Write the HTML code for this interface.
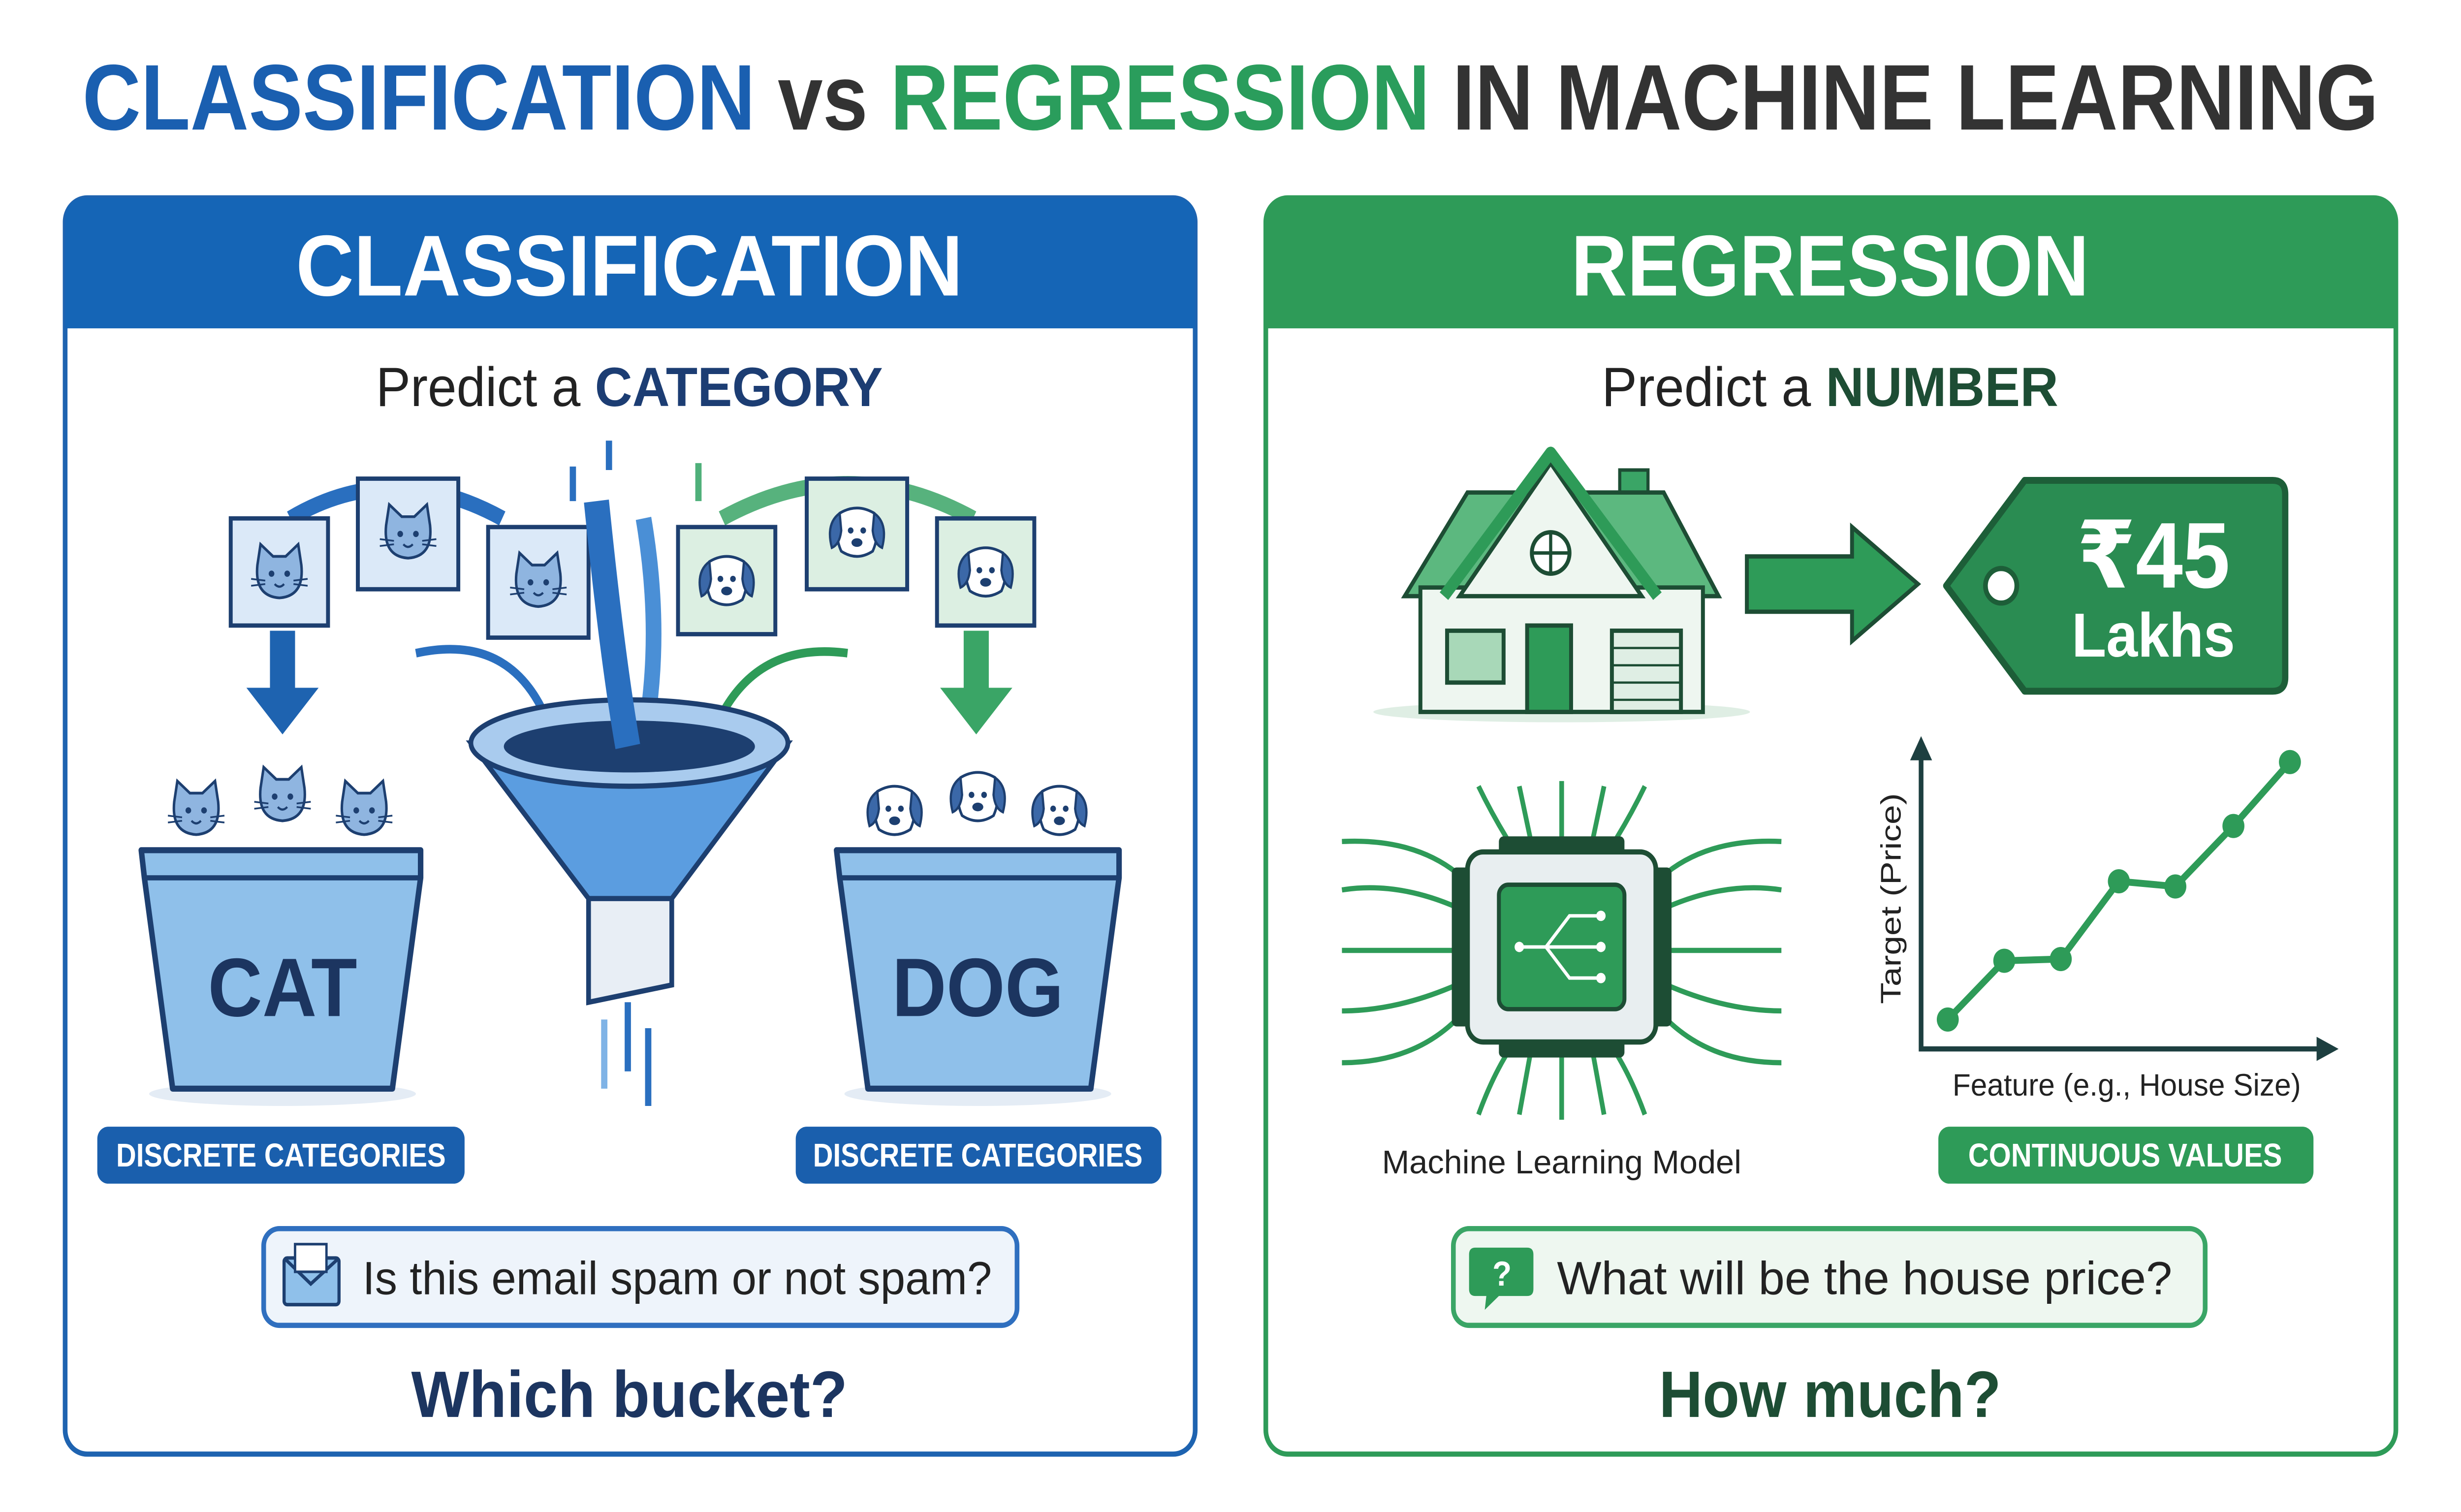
<!DOCTYPE html>
<html><head><meta charset="utf-8"><style>
html,body{margin:0;padding:0;background:#fff;overflow:hidden;width:100%;height:100%;}
svg{display:block;position:fixed;left:0;top:0;width:100vw;height:100vh;}
text{font-family:"Liberation Sans","DejaVu Sans",sans-serif;}
</style></head><body>
<svg viewBox="0 0 1568 875" preserveAspectRatio="none" xmlns="http://www.w3.org/2000/svg">
<defs>
<marker id="ab" markerWidth="6" markerHeight="6" refX="3" refY="3" orient="auto"><path d="M0,0 L6,3 L0,6 z" fill="#2a6fbf"/></marker>
<marker id="ag" markerWidth="6" markerHeight="6" refX="3" refY="3" orient="auto"><path d="M0,0 L6,3 L0,6 z" fill="#2e9b58"/></marker>
<g id="cat"><path d="M-14,-6 L-12,-18 L-4,-11 L4,-11 L12,-18 L14,-6 Q16,12 0,13 Q-16,12 -14,-6z" fill="#8fb5e0" stroke="#1d3f70" stroke-width="1.6"/><circle cx="-5" cy="-1" r="1.8" fill="#1d3f70"/><circle cx="5" cy="-1" r="1.8" fill="#1d3f70"/><path d="M-3,5 Q0,8 3,5" stroke="#1d3f70" fill="none" stroke-width="1.3"/><path d="M-18,2 L-9,3 M18,2 L9,3 M-18,6 L-9,5 M18,6 L9,5" stroke="#1d3f70" stroke-width="1"/></g>
<g id="dog"><path d="M-11,-12 Q0,-18 11,-12 Q15,0 10,10 Q0,16 -10,10 Q-15,0 -11,-12z" fill="#fff" stroke="#1d3f70" stroke-width="1.6"/><path d="M-11,-12 Q-20,-6 -16,8 Q-11,6 -10,-2z M11,-12 Q20,-6 16,8 Q11,6 10,-2z" fill="#3b68a8" stroke="#1d3f70" stroke-width="1.4"/><circle cx="-4" cy="-2" r="1.8" fill="#1d3f70"/><circle cx="4" cy="-2" r="1.8" fill="#1d3f70"/><ellipse cx="0" cy="5" rx="3.5" ry="2.5" fill="#1d3f70"/></g>
</defs>

<text x="784" y="75" text-anchor="middle" font-size="54" font-weight="bold" textLength="1463" lengthAdjust="spacingAndGlyphs"><tspan fill="#1a5fb0">CLASSIFICATION</tspan><tspan fill="#333"> vs </tspan><tspan fill="#2a9d5c">REGRESSION</tspan><tspan fill="#333"> IN MACHINE LEARNING</tspan></text>

<rect x="41.5" y="114.5" width="720" height="727" rx="14" fill="#fff" stroke="#1e63b0" stroke-width="3"/>
<path d="M41.5,190 L41.5,128 Q41.5,114.5 55,114.5 L748,114.5 Q761.5,114.5 761.5,128 L761.5,190 z" fill="#1565b6"/>
<text x="401" y="171" text-anchor="middle" font-size="50" font-weight="bold" fill="#fff" textLength="425" lengthAdjust="spacingAndGlyphs">CLASSIFICATION</text>
<text x="401" y="235" text-anchor="middle" font-size="32" fill="#222" textLength="323" lengthAdjust="spacingAndGlyphs">Predict a <tspan font-weight="bold" fill="#1c3d73">CATEGORY</tspan></text>

<path d="M185,300 Q250,265 320,300" stroke="#2a6fbf" stroke-width="9" fill="none"/>
<path d="M460,300 Q540,260 620,300" stroke="#3aa566" stroke-width="9" fill="none" opacity="0.85"/>
<path d="M265,378 Q330,365 352,425" stroke="#2a6fbf" stroke-width="5" fill="none" marker-end="url(#ab)"/>
<path d="M540,378 Q475,370 452,430" stroke="#2e9b58" stroke-width="5" fill="none" marker-end="url(#ag)"/>
<path d="M410,300 Q425,380 405,450" stroke="#4a8fd6" stroke-width="10" fill="none"/>
<g stroke="#2a6fbf" stroke-width="4"><line x1="365" y1="270" x2="365" y2="290"/><line x1="388" y1="255" x2="388" y2="272"/><line x1="445" y1="268" x2="445" y2="290" stroke="#4fb07a"/><line x1="385" y1="590" x2="385" y2="630" stroke="#7fb3e6"/><line x1="400" y1="580" x2="400" y2="620"/><line x1="413" y1="595" x2="413" y2="640"/></g>
<g stroke="#1d3f70" stroke-width="2.5">
<rect x="147" y="300" width="62" height="62" fill="#dbe9f8"/><rect x="228" y="277" width="64" height="64" fill="#dbe9f8"/><rect x="311" y="305" width="64" height="64" fill="#dbe9f8"/>
<rect x="432" y="305" width="62" height="62" fill="#dcefe2"/><rect x="514" y="277" width="64" height="64" fill="#dcefe2"/><rect x="597" y="300" width="62" height="62" fill="#dcefe2"/>
</g>
<use href="#cat" x="178" y="333"/><use href="#cat" x="260" y="310"/><use href="#cat" x="343" y="338"/>
<use href="#dog" x="463" y="337"/><use href="#dog" x="546" y="309"/><use href="#dog" x="628" y="332"/>
<path d="M172,365 L188,365 L188,398 L203,398 L180,425 L157,398 L172,398z" fill="#1e63b0"/>
<path d="M614,365 L630,365 L630,398 L645,398 L622,425 L599,398 L614,398z" fill="#3aa566"/>
<path d="M300,430 L375,520 L375,580 L428,570 L428,520 L502,430z" fill="#5b9de0" stroke="#1d3f70" stroke-width="3"/>
<path d="M375,520 L375,580 L428,570 L428,520z" fill="#e8eef5" stroke="#1d3f70" stroke-width="3"/>
<ellipse cx="401" cy="430" rx="101" ry="25" fill="#a9cbee" stroke="#1d3f70" stroke-width="3"/>
<ellipse cx="401" cy="432" rx="80" ry="15" fill="#1d3f70"/>
<path d="M380,290 Q390,380 400,432" stroke="#2a6fbf" stroke-width="16" fill="none"/>
<ellipse cx="180" cy="633" rx="85" ry="7" fill="#e4ecf5"/>
<ellipse cx="623" cy="633" rx="85" ry="7" fill="#e4ecf5"/>
<use href="#cat" x="125" y="470"/><use href="#cat" x="180" y="462"/><use href="#cat" x="232" y="470"/>
<use href="#dog" x="570" y="470"/><use href="#dog" x="623" y="462"/><use href="#dog" x="675" y="470"/>
<path d="M90,492 L268,492 L268,508 L250,630 L110,630 L92,508z" fill="#8fc0ea" stroke="#1d3f70" stroke-width="3.5" stroke-linejoin="round"/>
<line x1="92" y1="508" x2="268" y2="508" stroke="#1d3f70" stroke-width="3"/>
<text x="180" y="588" text-anchor="middle" font-size="48" font-weight="bold" fill="#1c3560">CAT</text>
<path d="M533,492 L713,492 L713,508 L695,630 L553,630 L535,508z" fill="#8fc0ea" stroke="#1d3f70" stroke-width="3.5" stroke-linejoin="round"/>
<line x1="535" y1="508" x2="713" y2="508" stroke="#1d3f70" stroke-width="3"/>
<text x="623" y="588" text-anchor="middle" font-size="48" font-weight="bold" fill="#1c3560">DOG</text>
<rect x="62" y="652" width="234" height="33" rx="7" fill="#1a5fad"/>
<text x="179" y="675" text-anchor="middle" font-size="19" font-weight="bold" fill="#fff" textLength="210" lengthAdjust="spacingAndGlyphs">DISCRETE CATEGORIES</text>
<rect x="507" y="652" width="233" height="33" rx="7" fill="#1a5fad"/>
<text x="623" y="675" text-anchor="middle" font-size="19" font-weight="bold" fill="#fff" textLength="210" lengthAdjust="spacingAndGlyphs">DISCRETE CATEGORIES</text>
<rect x="168" y="711" width="480" height="56" rx="10" fill="#eef4fb" stroke="#2f6fbf" stroke-width="3"/>
<rect x="181" y="728" width="35" height="27" rx="2" fill="#8fc0ea" stroke="#1d3f70" stroke-width="2"/>
<path d="M181,728 L198,743 L216,728" fill="none" stroke="#1d3f70" stroke-width="2"/>
<rect x="188" y="720" width="20" height="16" fill="#fff" stroke="#1d3f70" stroke-width="1.5"/>
<text x="231" y="749" font-size="27" fill="#222" textLength="401" lengthAdjust="spacingAndGlyphs">Is this email spam or not spam?</text>
<text x="401" y="820" text-anchor="middle" font-size="38" font-weight="bold" fill="#1c3560" textLength="278" lengthAdjust="spacingAndGlyphs">Which bucket?</text>

<rect x="806.5" y="114.5" width="720" height="727" rx="14" fill="#fff" stroke="#2e9b58" stroke-width="3"/>
<path d="M806.5,190 L806.5,128 Q806.5,114.5 820,114.5 L1513,114.5 Q1526.5,114.5 1526.5,128 L1526.5,190 z" fill="#2e9b58"/>
<text x="1166" y="171" text-anchor="middle" font-size="50" font-weight="bold" fill="#fff" textLength="330" lengthAdjust="spacingAndGlyphs">REGRESSION</text>
<text x="1166" y="235" text-anchor="middle" font-size="32" fill="#222" textLength="291" lengthAdjust="spacingAndGlyphs">Predict a <tspan font-weight="bold" fill="#1d4d34">NUMBER</tspan></text>
<ellipse cx="995" cy="412" rx="120" ry="6" fill="#dfeee4"/>
<rect x="1032" y="272" width="18" height="30" fill="#3aa566" stroke="#1d4d34" stroke-width="2"/>
<path d="M895,345 L935,285 L1060,285 L1095,345z" fill="#5cb87f" stroke="#1d4d34" stroke-width="2.5"/>
<rect x="905" y="340" width="180" height="72" fill="#eef6f0" stroke="#1d4d34" stroke-width="2.5"/>
<path d="M930,345 L988,268 L1046,345z" fill="#eef6f0" stroke="#1d4d34" stroke-width="2.5"/>
<path d="M920,345 L988,262 L1056,345" fill="none" stroke="#2e9b58" stroke-width="7" stroke-linejoin="round"/>
<circle cx="988" cy="320" r="12" fill="#fff" stroke="#1d4d34" stroke-width="2.5"/>
<path d="M976,320 L1000,320 M988,308 L988,332" stroke="#1d4d34" stroke-width="2"/>
<rect x="922" y="365" width="36" height="30" fill="#a8d8b8" stroke="#1d4d34" stroke-width="2.5"/>
<rect x="973" y="362" width="28" height="50" fill="#2e9b58" stroke="#1d4d34" stroke-width="2.5"/>
<rect x="1027" y="365" width="44" height="47" fill="#dfeee4" stroke="#1d4d34" stroke-width="2.5"/>
<path d="M1027,375 H1071 M1027,385 H1071 M1027,395 H1071 M1027,405 H1071" stroke="#1d4d34" stroke-width="1.3"/>
<path d="M1113,322 L1180,322 L1180,305 L1222,338 L1180,371 L1180,354 L1113,354z" fill="#2e9b58" stroke="#1d4d34" stroke-width="2.5"/>
<path d="M1290,278 L1448,278 Q1456,278 1456,286 L1456,392 Q1456,400 1448,400 L1290,400 L1240,339z" fill="#2a8c52" stroke="#1d5e38" stroke-width="4" stroke-linejoin="round"/>
<circle cx="1275" cy="339" r="10" fill="#fff" stroke="#1d5e38" stroke-width="3"/>
<text x="1372" y="340" text-anchor="middle" font-size="54" font-weight="bold" fill="#fff">₹45</text>
<text x="1372" y="380" text-anchor="middle" font-size="36" font-weight="bold" fill="#fff">Lakhs</text>
<g stroke="#2e9b58" stroke-width="3" fill="none">
<path d="M928,505 Q900,485 855,487 M928,525 Q890,510 855,515 M928,550 L855,550 M928,570 Q890,585 855,585 M928,590 Q900,615 855,615"/>
<path d="M1062,505 Q1090,485 1135,487 M1062,525 Q1100,510 1135,515 M1062,550 L1135,550 M1062,570 Q1100,585 1135,585 M1062,590 Q1090,615 1135,615"/>
<path d="M960,485 Q950,470 942,455 M975,485 L968,455 M995,485 L995,452 M1015,485 L1022,455 M1030,485 Q1040,470 1048,455"/>
<path d="M960,610 Q950,625 942,645 M975,610 L968,645 M995,610 L995,648 M1015,610 L1022,645 M1030,610 Q1040,625 1048,645"/>
</g>
<g fill="#1d4d34"><rect x="955" y="484" width="80" height="12" rx="3"/><rect x="955" y="600" width="80" height="12" rx="3"/><rect x="925" y="502" width="12" height="92" rx="3"/><rect x="1053" y="502" width="12" height="92" rx="3"/></g>
<rect x="935" y="493" width="120" height="110" rx="10" fill="#e8eef0" stroke="#1d4d34" stroke-width="3"/>
<rect x="955" y="512" width="80" height="72" rx="6" fill="#2e9b58" stroke="#1d4d34" stroke-width="2.5"/>
<g stroke="#fff" stroke-width="2" fill="none"><path d="M968,548 L985,548 L1000,530 L1020,530 M985,548 L1000,566 L1020,566 M985,548 L1020,548"/></g>
<g fill="#fff"><circle cx="968" cy="548" r="3"/><circle cx="1020" cy="530" r="3"/><circle cx="1020" cy="566" r="3"/><circle cx="1020" cy="548" r="3"/></g>
<text x="995" y="679" text-anchor="middle" font-size="19" fill="#222" textLength="229" lengthAdjust="spacingAndGlyphs">Machine Learning Model</text>
<path d="M1224,438 L1224,607 L1482,607" stroke="#1d3f40" stroke-width="3" fill="none"/>
<path d="M1224,426 L1217,440 L1231,440z M1490,607 L1476,600 L1476,614z" fill="#1d3f40"/>
<polyline points="1241,590 1277,556 1313,555 1350,510 1386,513 1423,478 1459,441" fill="none" stroke="#2e9b58" stroke-width="4"/>
<g fill="#2e9b58"><circle cx="1241" cy="590" r="7"/><circle cx="1277" cy="556" r="7"/><circle cx="1313" cy="555" r="7"/><circle cx="1350" cy="510" r="7"/><circle cx="1386" cy="513" r="7"/><circle cx="1423" cy="478" r="7"/><circle cx="1459" cy="441" r="7"/></g>
<text x="1211" y="520" text-anchor="middle" font-size="18" fill="#222" transform="rotate(-90 1211 520)" textLength="122" lengthAdjust="spacingAndGlyphs">Target (Price)</text>
<text x="1355" y="634" text-anchor="middle" font-size="18" fill="#222" textLength="222" lengthAdjust="spacingAndGlyphs">Feature (e.g., House Size)</text>
<rect x="1235" y="652" width="239" height="33" rx="7" fill="#2e9b58"/>
<text x="1354" y="675" text-anchor="middle" font-size="19" font-weight="bold" fill="#fff" textLength="200" lengthAdjust="spacingAndGlyphs">CONTINUOUS VALUES</text>
<rect x="926" y="711" width="479" height="56" rx="10" fill="#eef7f0" stroke="#3aa566" stroke-width="3"/>
<path d="M940,722 L973,722 Q977,722 977,726 L977,746 Q977,750 973,750 L955,750 L946,758 L947,750 L940,750 Q936,750 936,746 L936,726 Q936,722 940,722z" fill="#2e9b58"/>
<text x="957" y="744" text-anchor="middle" font-size="20" font-weight="bold" fill="#fff">?</text>
<text x="992" y="749" font-size="27" fill="#222" textLength="392" lengthAdjust="spacingAndGlyphs">What will be the house price?</text>
<text x="1166" y="820" text-anchor="middle" font-size="38" font-weight="bold" fill="#1d4d34" textLength="218" lengthAdjust="spacingAndGlyphs">How much?</text>
</svg>
</body></html>
